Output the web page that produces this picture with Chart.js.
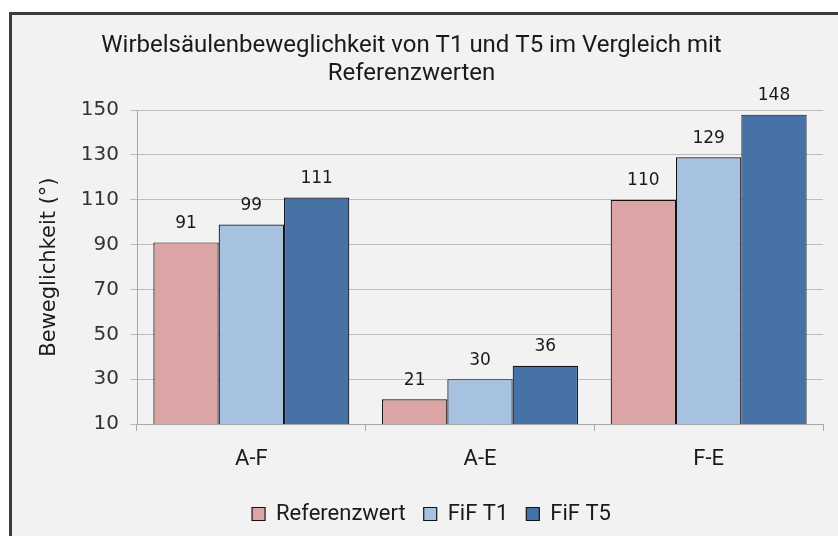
<!DOCTYPE html>
<html>
<head>
<meta charset="utf-8">
<script src="https://cdn.jsdelivr.net/npm/chart.js@4.4.0/dist/chart.umd.min.js"></script>
<style>
  html, body { margin: 0; padding: 0; background: #fff; }
  #frame { position: absolute; left: 9px; top: 12px; width: 900px; height: 600px;
           border: 3px solid #3c3c3c; background: #f2f2f2; }
  #wrap { position: absolute; left: 0; top: 0; width: 838px; height: 536px; }
</style>
</head>
<body>
<div id="frame"></div>
<div id="wrap"><canvas id="myChart" width="838" height="536"></canvas></div>
<script>
// data
const categories = ['A-F', 'A-E', 'F-E'];
const referenzwert = [91, 21, 110];
const fifT1 = [99, 30, 129];
const fifT5 = [111, 36, 148];

const narrow = "'Roboto', sans-serif";
const wide = "'DejaVu Sans', sans-serif";

// numbers above the bars
const valueLabels = {
  id: 'valueLabels',
  afterDatasetsDraw(chart) {
    const ctx = chart.ctx;
    ctx.save();
    ctx.font = '17px ' + wide;
    ctx.fillStyle = '#1a1a1a';
    ctx.textAlign = 'center';
    ctx.textBaseline = 'middle';
    chart.data.datasets.forEach((ds, i) => {
      chart.getDatasetMeta(i).data.forEach((bar, j) => {
        ctx.fillText(ds.data[j], bar.x, bar.y - 19);
      });
    });
    ctx.restore();
  }
};

// the legend sits a bit right of centre in the original
const legendShift = {
  id: 'legendShift',
  afterUpdate(chart) {
    chart.legend.left += 20;
    chart.legend.right += 20;
  }
};

const ctx = document.getElementById('myChart');
new Chart(ctx, {
  type: 'bar',
  data: {
    labels: categories,
    datasets: [{
      label: 'Referenzwert',
      data: referenzwert,
      backgroundColor: '#dca5a5',
      borderColor: '#1a1111',
      borderWidth: 1.2
    }, {
      label: 'FiF T1',
      data: fifT1,
      backgroundColor: '#a7c1e0',
      borderColor: '#11111a',
      borderWidth: 1.2
    }, {
      label: 'FiF T5',
      data: fifT5,
      backgroundColor: '#4571a4',
      borderColor: '#111522',
      borderWidth: 1.2
    }]
  },
  plugins: [valueLabels, legendShift],
  options: {
    responsive: false,
    animation: false,
    layout: { padding: { left: 0, right: 15, top: 0, bottom: 1 } },
    datasets: {
      bar: { categoryPercentage: 0.857, barPercentage: 1.0 }
    },
    plugins: {
      title: {
        display: true,
        text: ['Wirbelsäulenbeweglichkeit von T1 und T5 im Vergleich mit', 'Referenzwerten'],
        color: '#1a1a1a',
        font: { family: narrow, size: 24, weight: 'normal', lineHeight: 1.17 },
        padding: { top: 32, bottom: 22 }
      },
      legend: {
        position: 'bottom',
        labels: {
          color: '#1a1a1a',
          font: { family: narrow, size: 22 },
          boxWidth: 13,
          boxHeight: 13,
          padding: 18
        }
      },
      tooltip: { enabled: false }
    },
    scales: {
      x: {
        afterFit(scale) { scale.height = 61; },
        grid: {
          offset: true,
          drawOnChartArea: false,
          color: '#a8a8a8',
          tickLength: 7
        },
        border: { color: '#a8a8a8' },
        ticks: {
          color: '#1a1a1a',
          font: { family: narrow, size: 22 },
          padding: 15
        }
      },
      y: {
        min: 10,
        max: 150,
        afterFit(scale) { scale.width = 137; },
        ticks: {
          stepSize: 20,
          color: '#333',
          font: { family: wide, size: 20 },
          padding: 11
        },
        grid: { color: '#bdbdbd', tickLength: 7 },
        border: { color: '#a8a8a8' },
        title: {
          display: true,
          text: 'Beweglichkeit (°)',
          color: '#1a1a1a',
          font: { family: wide, size: 21 },
          padding: { top: 37, bottom: 0 }
        }
      }
    }
  }
});
</script>
</body>
</html>
